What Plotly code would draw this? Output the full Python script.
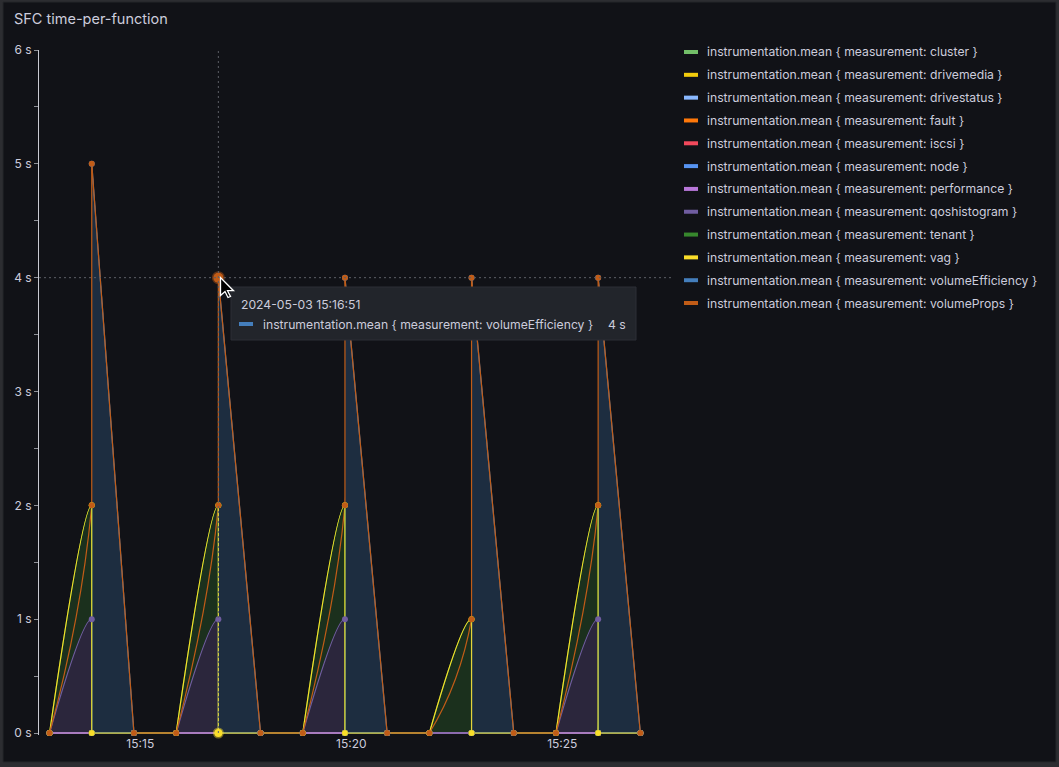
import plotly.graph_objects as go

# ---------------- data ----------------
times = [
    "2024-05-03 15:12:51", "2024-05-03 15:13:51", "2024-05-03 15:14:51",
    "2024-05-03 15:15:51", "2024-05-03 15:16:51", "2024-05-03 15:17:51",
    "2024-05-03 15:18:51", "2024-05-03 15:19:51", "2024-05-03 15:20:51",
    "2024-05-03 15:21:51", "2024-05-03 15:22:51", "2024-05-03 15:23:51",
    "2024-05-03 15:24:51", "2024-05-03 15:25:51", "2024-05-03 15:26:51",
]
# a tuple (before, after) marks a step at that timestamp
cluster      = [0, 0, 0, 0, 0, 0, 0, 0, 0, 0, 0, 0, 0, 0, 0]
drivemedia   = [0, 0, 0, 0, 0, 0, 0, 0, 0, 0, 0, 0, 0, 0, 0]
drivestatus  = [0, 0, 0, 0, 0, 0, 0, 0, 0, 0, 0, 0, 0, 0, 0]
fault        = [0, 0, 0, 0, 0, 0, 0, 0, 0, 0, 0, 0, 0, 0, 0]
iscsi        = [0, 0, 0, 0, 0, 0, 0, 0, 0, 0, 0, 0, 0, 0, 0]
node         = [0, 0, 0, 0, 0, 0, 0, 0, 0, 0, 0, 0, 0, 0, 0]
performance  = [0, 0, 0, 0, 0, 0, 0, 0, 0, 0, 0, 0, 0, 0, 0]
qoshistogram = [0, (1, 0), 0, 0, (1, 0), 0, 0, (1, 0), 0, 0, 0, 0, 0, (1, 0), 0]
tenant       = [0, (2, 0), 0, 0, (2, 0), 0, 0, (2, 0), 0, 0, (1, 0), 0, 0, (2, 0), 0]
vag          = [0, (2, 0), 0, 0, (2, 0), 0, 0, (2, 0), 0, 0, (1, 0), 0, 0, (2, 0), 0]
volumeEfficiency = [None, 5, 0, None, 4, 0, None, 4, 0, None, 4, 0, None, 4, 0]
volumeProps  = [0, (2, 5), 0, 0, (2, 4), 0, 0, (2, 4), 0, 0, (1, 4), 0, 0, (2, 4), 0]

series_names = ["cluster", "drivemedia", "drivestatus", "fault", "iscsi", "node",
                "performance", "qoshistogram", "tenant", "vag",
                "volumeEfficiency", "volumeProps"]
series_values = [cluster, drivemedia, drivestatus, fault, iscsi, node,
                 performance, qoshistogram, tenant, vag,
                 volumeEfficiency, volumeProps]
series_colors = ["#73BF69", "#F2CC0C", "#8AB8FF", "#FF780A", "#F2495C", "#5794F2",
                 "#B877D9", "#705DA0", "#37872D", "#FADE2A", "#447EBC", "#C15C17"]

hover_index = 4
hover_series = "volumeEfficiency"

# ---------------- styling ----------------
BG = "#111217"
TEXT = "#ccccdc"
FONT = "Inter"
PL, PR, PT, PB = 39, 672, 50, 735          # plot area in pixels
W, H = 1059, 767
SMOOTH = 1.3
LW = 1.2
FS = 12.2


def px(x):
    return (x - PL) / (PR - PL)


def py(y):
    return (PB - y) / (PB - PT)


def blend(hexcol, a, base=BG):
    c = [int(hexcol[i:i + 2], 16) for i in (1, 3, 5)]
    b = [int(base[i:i + 2], 16) for i in (1, 3, 5)]
    m = [round(b[i] * (1 - a) + c[i] * a) for i in range(3)]
    return "#%02x%02x%02x" % tuple(m)


def expand(values):
    """turn per-timestamp values into runs of (t, v) points"""
    runs, cur = [], []
    for t, v in zip(times, values):
        if v is None:
            if cur:
                runs.append(cur)
            cur = []
            continue
        if isinstance(v, tuple):
            cur.append((t, v[0]))
            cur.append((t, v[1]))
        else:
            cur.append((t, v))
    if cur:
        runs.append(cur)
    return runs


def split(values):
    """curved pieces (through the last step of a pulse) and straight pieces
    (flat runs, steps, and what follows the last step)"""
    curved, straight = [], []
    for run in expand(values):
        groups = []
        for a, b in zip(run[:-1], run[1:]):
            flat = a[1] == 0 and b[1] == 0
            if groups and groups[-1][0] == flat:
                groups[-1][1].append(b)
            else:
                groups.append([flat, [a, b]])
        for flat, pts in groups:
            if flat:
                straight.append(pts)
                continue
            steps = [i for i in range(len(pts) - 1) if pts[i][0] == pts[i + 1][0]]
            if not steps:
                straight.append(pts)
                continue
            last = steps[-1]
            curved.append(pts[:last + 2])
            rest = pts[last + 1:]
            if len(rest) > 1:
                straight.append(rest)
            for i in steps:
                straight.append([pts[i], pts[i + 1]])
    return curved, straight


def join(pcs):
    xs, ys = [], []
    for pts in pcs:
        xs += [p[0] for p in pts] + [None]
        ys += [p[1] for p in pts] + [None]
    return xs, ys


def nonflat(pcs):
    return [p for p in pcs if any(v != 0 for _, v in p) and p[0][0] != p[-1][0]]


fig = go.Figure()


def fill_trace(pts, color):
    fig.add_trace(go.Scatter(
        x=[p[0] for p in pts], y=[p[1] for p in pts], mode="lines",
        line=dict(width=0, shape="spline", smoothing=SMOOTH),
        fill="tozeroy", fillcolor=color, hoverinfo="skip", showlegend=False))


def line_trace(pcs, col):
    if not pcs:
        return
    xs, ys = join(pcs)
    fig.add_trace(go.Scatter(
        x=xs, y=ys, mode="lines",
        line=dict(color=col, width=LW, shape="spline", smoothing=SMOOTH),
        hoverinfo="skip", showlegend=False))


parts = {n: split(v) for n, v in zip(series_names, series_values)}
colors = dict(zip(series_names, series_colors))

# 1) area fills of the rising pulses
for pts in parts["tenant"][0]:
    fill_trace(pts, blend(colors["tenant"], 0.26))
for pts in parts["qoshistogram"][0]:
    fill_trace(pts, blend(colors["qoshistogram"], 0.27))

# 2) curved rising pulses
for n in series_names:
    line_trace(parts[n][0], colors[n])

# 3) background under the volumeEfficiency area
for pts in nonflat(parts["volumeEfficiency"][1]):
    fill_trace(pts, BG)

# 4) straight parts, flats and steps; volumeEfficiency area
for n in series_names:
    if n == "volumeEfficiency":
        for pts in nonflat(parts[n][1]):
            fill_trace(pts, "rgba(68,126,188,0.25)")
    line_trace(parts[n][1], colors[n])

# 5) points
for n, vals in zip(series_names, series_values):
    xs, ys = join(expand(vals))
    fig.add_trace(go.Scatter(
        x=xs, y=ys, mode="markers", name=n,
        marker=dict(color=colors[n], size=6),
        cliponaxis=False, hoverinfo="skip", showlegend=False))

# hover highlight points
vp = volumeProps[hover_index]
vp_top = vp[1] if isinstance(vp, tuple) else vp
vg = vag[hover_index]
vg_low = vg[1] if isinstance(vg, tuple) else vg
fig.add_trace(go.Scatter(
    x=[times[hover_index]], y=[vp_top], mode="markers",
    marker=dict(color="#C15C17", size=10, line=dict(color="rgba(193,92,23,0.45)", width=3)),
    cliponaxis=False, showlegend=False, hoverinfo="skip"))
fig.add_trace(go.Scatter(
    x=[times[hover_index]], y=[vg_low], mode="markers",
    marker=dict(color="#FADE2A", size=8, line=dict(color="rgba(250,222,42,0.45)", width=3)),
    cliponaxis=False, showlegend=False, hoverinfo="skip"))

shapes = []
annotations = []

# panel background
shapes.append(dict(type="rect", xref="paper", yref="paper", layer="below",
                   x0=px(3), x1=px(1056), y0=py(762), y1=py(2),
                   fillcolor=BG, line=dict(color="#24262b", width=1)))

# crosshair
he_val = volumeEfficiency[hover_index]
shapes.append(dict(type="line", xref="x", yref="paper", layer="above",
                   x0=times[hover_index], x1=times[hover_index], y0=py(733), y1=1,
                   line=dict(color="#5d5f66", width=1, dash="2px,3px")))
shapes.append(dict(type="line", xref="paper", yref="y", layer="above",
                   x0=0, x1=1, y0=he_val, y1=he_val,
                   line=dict(color="#5d5f66", width=1, dash="2px,3px")))

# title
annotations.append(dict(text="SFC time-per-function", xref="paper", yref="paper",
                        x=px(12), y=py(19), xanchor="left", yanchor="middle",
                        showarrow=False, font=dict(family=FONT, size=14.5, color=TEXT)))

# legend
for i, (name, col) in enumerate(zip(series_names, series_colors)):
    yc = 52 + 22.82 * i
    shapes.append(dict(type="rect", xref="paper", yref="paper", layer="above",
                       x0=px(684), x1=px(698), y0=py(yc + 2), y1=py(yc - 2),
                       fillcolor=col, line=dict(width=0)))
    annotations.append(dict(text="instrumentation.mean { measurement: %s }" % name,
                            xref="paper", yref="paper", x=px(705), y=py(yc),
                            xanchor="left", yanchor="middle", showarrow=False,
                            font=dict(family=FONT, size=FS, color=TEXT)))

# tooltip
shapes.append(dict(type="rect", xref="paper", yref="paper", layer="above",
                   x0=px(231), x1=px(636), y0=py(340), y1=py(287),
                   fillcolor="#22252b", line=dict(color="#2c2f36", width=1)))
annotations.append(dict(text=times[hover_index], xref="paper", yref="paper",
                        x=px(239), y=py(304), xanchor="left", yanchor="middle",
                        showarrow=False, font=dict(family=FONT, size=FS, color=TEXT)))
hcol = colors[hover_series]
shapes.append(dict(type="rect", xref="paper", yref="paper", layer="above",
                   x0=px(239), x1=px(253), y0=py(326), y1=py(322),
                   fillcolor=hcol, line=dict(width=0)))
annotations.append(dict(text="instrumentation.mean { measurement: %s }" % hover_series,
                        xref="paper", yref="paper", x=px(261), y=py(324),
                        xanchor="left", yanchor="middle", showarrow=False,
                        font=dict(family=FONT, size=FS, color=TEXT)))
annotations.append(dict(text="%g s" % he_val, xref="paper", yref="paper",
                        x=px(628), y=py(324), xanchor="right", yanchor="middle",
                        showarrow=False, font=dict(family=FONT, size=FS, color=TEXT)))

# mouse pointer
cx, cy = 220.5, 277.5
arrow = [(0, 0), (0, 18), (4.5, 14), (7.5, 20), (10, 19), (7, 13.2), (13, 13.2)]
path = "M " + " L ".join("%.5f,%.5f" % (px(cx + dx), py(cy + dy)) for dx, dy in arrow) + " Z"
shapes.append(dict(type="path", xref="paper", yref="paper", layer="above", path=path,
                   fillcolor="#000000", line=dict(color="#ffffff", width=1.3)))

fig.update_layout(
    width=W, height=H,
    margin=dict(l=PL, r=W - PR, t=PT, b=H - PB, pad=0),
    paper_bgcolor="#2c2d31", plot_bgcolor="rgba(0,0,0,0)",
    font=dict(family=FONT, size=12, color=TEXT),
    showlegend=False, hovermode=False,
    shapes=shapes, annotations=annotations,
    xaxis=dict(type="date", range=["2024-05-03 15:12:36", "2024-05-03 15:27:36"],
               tickformat="%H:%M", dtick=300000, tick0="2024-05-03 15:15:00",
               showgrid=False, zeroline=False, showline=False, ticks="",
               tickfont=dict(family=FONT, size=12, color=TEXT)),
    yaxis=dict(range=[-2 / 113.83, 6], dtick=1, tick0=0, ticksuffix=" s",
               showgrid=False, zeroline=False, showline=True,
               linecolor="#c9cad2", linewidth=1,
               ticks="outside", ticklen=4, tickcolor="#8e9097",
               minor=dict(dtick=0.5, ticks="outside", ticklen=4, tickcolor="#8e9097",
                          showgrid=False),
               tickfont=dict(family=FONT, size=12, color=TEXT)),
)

fig.write_html("out.html")
